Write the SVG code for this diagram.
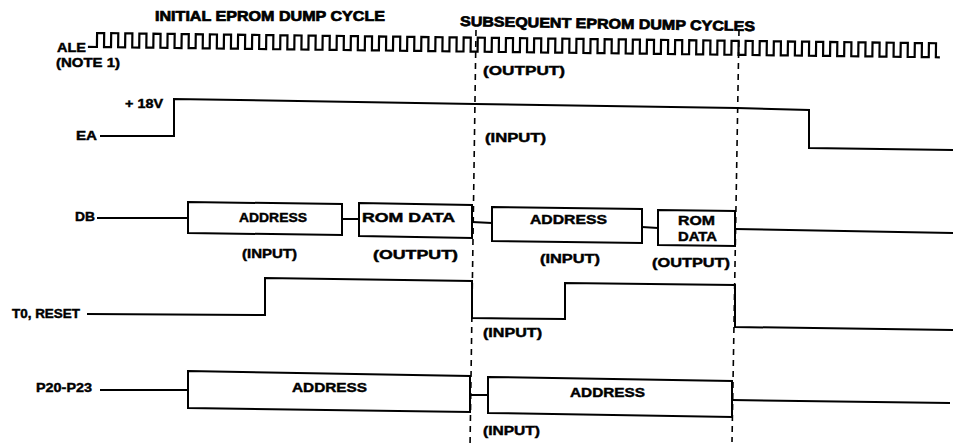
<svg xmlns="http://www.w3.org/2000/svg" width="965" height="448" viewBox="0 0 965 448">
<style>
text{font-family:"Liberation Sans",Arial,sans-serif;font-weight:bold;font-size:13px;fill:#000;stroke:#000;stroke-width:0.45}
.t{font-size:14px;font-weight:900;stroke-width:0.7}
.sig{fill:none;stroke:#000;stroke-width:2;stroke-linejoin:miter}
.ale{fill:none;stroke:#000;stroke-width:2.2;stroke-linejoin:miter}
.box{fill:#fff;stroke:#000;stroke-width:2}
.dash{fill:none;stroke:#000;stroke-width:1.6;stroke-dasharray:6 5}
</style>
<rect width="965" height="448" fill="#fff"/>
<g id="titles">
<text class="t" x="155" y="21" textLength="230" lengthAdjust="spacingAndGlyphs">INITIAL EPROM DUMP CYCLE</text>
<text class="t" x="460" y="26" textLength="295" lengthAdjust="spacingAndGlyphs" transform="rotate(1 460 26)">SUBSEQUENT EPROM DUMP CYCLES</text>
</g>
<g id="connectors">
<path class="dash" d="M476,30 L470,448"/>
<path class="dash" d="M739,30 L732,442"/>
</g>
<g id="ALE">
<text x="57" y="52" textLength="29" lengthAdjust="spacingAndGlyphs">ALE</text>
<text x="56" y="67" textLength="64" lengthAdjust="spacingAndGlyphs">(NOTE 1)</text>
<path class="ale" transform="rotate(0.7 97 40)" d="M88,47 H97 V33 h7.1v14h7v-14h7.1v14h7v-14h7.1v14h7v-14h7.1v14h7v-14h7.1v14h7v-14h7.1v14h7v-14h7.1v14h7v-14h7.1v14h7v-14h7.1v14h7v-14h7.1v14h7v-14h7.1v14h7v-14h7.1v14h7v-14h7.1v14h7v-14h7.1v14h7v-14h7.1v14h7v-14h7.1v14h7v-14h7.1v14h7v-14h7.1v14h7v-14h7.1v14h7v-14h7.1v14h7v-14h7.1v14h7v-14h7.1v14h7v-14h7.1v14h7v-14h7.1v14h7v-14h7.1v14h7v-14h7.1v14h7v-14h7.1v14h7v-14h7.1v14h7v-14h7.1v14h7v-14h7.1v14h7v-14h7.1v14h7v-14h7.1v14h7v-14h7.1v14h7v-14h7.1v14h7v-14h7.1v14h7v-14h7.1v14h7v-14h7.1v14h7v-14h7.1v14h7v-14h7.1v14h7v-14h7.1v14h7v-14h7.1v14h7v-14h7.1v14h7v-14h7.1v14h7v-14h7.1v14h7v-14h7.1v14h7v-14h7.1v14h7v-14h7.1v14h7v-14h7.1v14h7v-14h7.1v14h7v-14h7.1v14h7v-14h7.1v14h7v-14h7.1v14h7v-14h7.1v14h7v-14h7.1v14h7v-14h7.1v14h7v-14h7.1v14h7v-14h7.1v14h7v-14h7.1v14h7v-14h7.1v14h7v-14 h7.1v14h4"/>
<text x="483" y="75" textLength="82" lengthAdjust="spacingAndGlyphs">(OUTPUT)</text>
</g>
<g id="EA">
<text x="76" y="140" textLength="21" lengthAdjust="spacingAndGlyphs">EA</text>
<text x="125" y="108" textLength="38" lengthAdjust="spacingAndGlyphs">+ 18V</text>
<polyline class="sig" points="100,136 174,136 174,99 475,104 737,108 809,110 809,148 953,150"/>
<text x="485" y="142" textLength="61" lengthAdjust="spacingAndGlyphs">(INPUT)</text>
</g>
<g id="DB">
<text x="75" y="221" textLength="20" lengthAdjust="spacingAndGlyphs">DB</text>
<polyline class="sig" points="97,218 188,218"/>
<polyline class="sig" points="342,219 359,219"/>
<polyline class="sig" points="472,222 492,223"/>
<polyline class="sig" points="642,227 658,228"/>
<polyline class="sig" points="735,229 953,233"/>
<polygon class="box" points="188,202 342,204 342,235 188,233"/>
<polygon class="box" points="359,203 472,205 472,238 359,236"/>
<polygon class="box" points="492,207 642,209 642,243 492,241"/>
<polygon class="box" points="658,210 735,211 735,246 658,245"/>
<text x="239" y="222" textLength="68" lengthAdjust="spacingAndGlyphs">ADDRESS</text>
<text x="362" y="222" textLength="93" lengthAdjust="spacingAndGlyphs">ROM DATA</text>
<text x="530" y="224" textLength="77" lengthAdjust="spacingAndGlyphs">ADDRESS</text>
<text x="678" y="225" textLength="37" lengthAdjust="spacingAndGlyphs">ROM</text>
<text x="678" y="241" textLength="39" lengthAdjust="spacingAndGlyphs">DATA</text>
<text x="242" y="258" textLength="55" lengthAdjust="spacingAndGlyphs">(INPUT)</text>
<text x="373" y="259" textLength="85" lengthAdjust="spacingAndGlyphs">(OUTPUT)</text>
<text x="540" y="263" textLength="60" lengthAdjust="spacingAndGlyphs">(INPUT)</text>
<text x="652" y="267" textLength="78" lengthAdjust="spacingAndGlyphs">(OUTPUT)</text>
</g>
<g id="T0">
<text x="12" y="318" textLength="68" lengthAdjust="spacingAndGlyphs">T0, RESET</text>
<polyline class="sig" points="87,314 265,315 265,278 472,281 472,318 565,319 565,283 735,285 735,327 953,330"/>
<text x="483" y="337" textLength="59" lengthAdjust="spacingAndGlyphs">(INPUT)</text>
</g>
<g id="P20">
<text x="36" y="392" textLength="56" lengthAdjust="spacingAndGlyphs">P20-P23</text>
<polyline class="sig" points="100,390 188,390"/>
<polyline class="sig" points="470,395 488,395"/>
<polyline class="sig" points="732,400 950,403"/>
<polygon class="box" points="188,371 470,376 470,412 188,408"/>
<polygon class="box" points="488,377 732,381 732,417 488,413"/>
<text x="292" y="392" textLength="75" lengthAdjust="spacingAndGlyphs">ADDRESS</text>
<text x="570" y="397" textLength="75" lengthAdjust="spacingAndGlyphs">ADDRESS</text>
<text x="483" y="435" textLength="57" lengthAdjust="spacingAndGlyphs">(INPUT)</text>
</g>
</svg>
